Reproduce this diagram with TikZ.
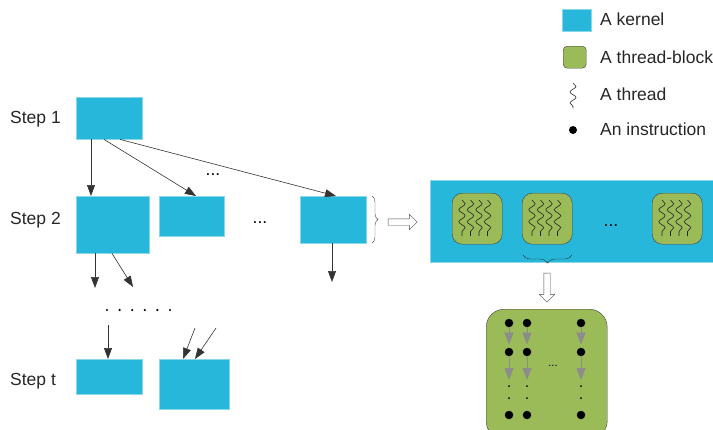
\documentclass[tikz,border=0pt]{standalone}
\usepackage{fontspec}
\setmainfont{Liberation Sans}
\usetikzlibrary{arrows.meta,shapes.arrows,decorations.pathmorphing,decorations.pathreplacing}
\definecolor{kblue}{RGB}{38,183,219}
\definecolor{tgreen}{RGB}{155,187,89}
\tikzset{
	kernel/.style={fill=kblue, draw=kblue!55, anchor=north west, inner sep=0pt},
	tblock/.style={fill=tgreen, draw=black!75, rounded corners=10pt, anchor=north west, inner sep=0pt, minimum width=50pt, minimum height=51pt},
	flow/.style={draw=black!80, line width=0.6pt, -{Triangle[length=11pt,width=8pt]}},
	inflow/.style={draw=black!45, line width=0.8pt, -{Triangle[length=12pt,width=9pt]}},
	instr/.style={circle, fill=black, inner sep=0pt, minimum size=8.5pt},
	wave/.style={decorate, decoration={snake, segment length=12pt, amplitude=3.2pt}, black!85, line width=0.6pt},
	hollow/.style={single arrow, draw=black!70, fill=white, inner sep=3pt, minimum height=29pt, minimum width=15pt, single arrow head extend=4.5pt},
	lbl/.style={anchor=west, inner sep=0pt, text=black!85}
}
\begin{document}
\begin{tikzpicture}[x=1pt, y=-1pt, font=\fontsize{17.5}{21}\selectfont]
	%%%%% START %%%%%
	\useasboundingbox (0,0) rectangle (713,429);
	
	% legend
	\node[kernel, minimum width=29pt, minimum height=22pt] (lgk) at (562,9) {};
	\node[tblock, minimum width=23pt, minimum height=22pt, rounded corners=4pt] (lgt) at (563,46) {};
	\draw[wave, decoration={segment length=11pt, amplitude=3pt}] (573,83) -- (573,108);
	\node[instr, minimum size=8pt] (lgi) at (573,130) {};
	\node[lbl] at (600,19) {A kernel};
	\node[lbl] at (600,57) {A thread-block};
	\node[lbl] at (600,94) {A thread};
	\node[lbl] at (600,129) {An instruction};
	
	% steps
	\node[lbl] at (10,119) {Step 1};
	\node[lbl] at (10,220) {Step 2};
	\node[lbl] at (10,381) {Step t};
	
	\node[kernel, minimum width=66pt, minimum height=42pt] (k1) at (76,97) {};
	\node[kernel, minimum width=73pt, minimum height=57pt] (k2a) at (76,196) {};
	\node[kernel, minimum width=65pt, minimum height=40pt] (k2b) at (159,196) {};
	\node[kernel, minimum width=66pt, minimum height=47pt] (k2c) at (300,196) {};
	\node[kernel, minimum width=66pt, minimum height=35pt] (kta) at (76,359) {};
	\node[kernel, minimum width=70pt, minimum height=50pt] (ktb) at (159,359) {};
	
	\node at (213,175) {...};
	\node at (260,223) {...};
	
	\draw[flow] ([xshift=15pt]k1.south west) -- ([xshift=15pt]k2a.north west);
	\draw[flow] ([xshift=28pt]k1.south west) -- ([xshift=37pt]k2b.north west);
	\draw[flow] ([xshift=44pt]k1.south west) -- ([xshift=36pt]k2c.north west);
	
	\coordinate (c2) at (332,282);
	\coordinate (a1) at (95,288);
	\coordinate (a2) at (133,287);
	\draw[flow] ([xshift=32pt]k2c.south west) -- (c2);
	\draw[flow] ([xshift=19pt]k2a.south west) -- (a1);
	\draw[flow] ([xshift=36pt]k2a.south west) -- (a2);
	
	\foreach \x in {107,119.6,132.2,144.8,157.4,170}
		\fill (\x,310) circle (1.2);
	
	\coordinate (t1) at (108,325);
	\coordinate (t2) at (195,328);
	\coordinate (t3) at (216,328);
	\draw[flow] (t1) -- ([xshift=32pt]kta.north west);
	\draw[flow] (t2) -- ([xshift=24pt]ktb.north west);
	\draw[flow] (t3) -- ([xshift=36pt]ktb.north west);
	
	% one kernel
	\draw[decorate, decoration={brace, amplitude=6pt}, black!70] (372,196) -- (372,243);
	\node[hollow] (h1) at (401,222) {};
	
	\node[kernel, minimum width=290pt, minimum height=82pt] (kbig) at (430,180) {};
	\node[tblock] (tb1) at (452,193) {};
	\node[tblock] (tb2) at (522,193) {};
	\node[tblock] (tb3) at (652,193) {};
	\foreach \b in {tb1,tb2,tb3}
		\foreach \d in {10,18.5,27,35.5}
			\draw[wave] ([xshift=\d pt, yshift=-7pt]\b.north west) -- ([xshift=\d pt, yshift=-43pt]\b.north west);
	\node at (611,226) {...};
	
	\draw[decorate, decoration={brace, amplitude=8pt}, black!80] (572,255) -- (523,255);
	\node[hollow, shape border rotate=270] (h2) at (547,286) {};
	
	% one thread-block
	\node[tblock, minimum width=121pt, minimum height=130pt, rounded corners=18pt] (tbig) at (486,309) {};
	\foreach \c/\x in {1/509,2/527,3/581} {
		\node[instr] (d\c a) at (\x,323) {};
		\node[instr] (d\c b) at (\x,352) {};
		\node[instr] (d\c c) at (\x,415) {};
		\coordinate (e\c) at (\x,380);
		\draw[inflow, shorten >=3pt] (d\c a) -- (d\c b);
		\draw[inflow] (d\c b) -- (e\c);
		\fill (\x,386) circle (1);
		\fill (\x,398) circle (1);
	}
	\node[font=\fontsize{11}{13}\selectfont] at (553,366) {...};
	
	%%%%% END %%%%%
\end{tikzpicture}
\end{document}
